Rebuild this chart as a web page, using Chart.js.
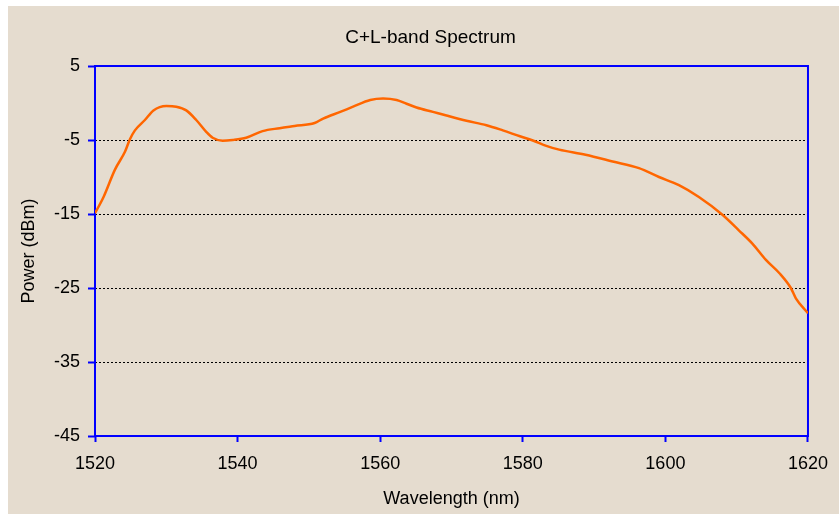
<!DOCTYPE html>
<html>
<head>
<meta charset="utf-8">
<script src="https://cdn.jsdelivr.net/npm/chart.js@4.4.1/dist/chart.umd.min.js"></script>
<style>
  html, body { margin: 0; padding: 0; background: #ffffff; }
  #frame {
    position: absolute;
    left: 8px;
    top: 6px;
    width: 831px;
    height: 508px;
    background: #e5dccf;
  }
  #spectrum { display: block; }
</style>
</head>
<body>
<div id="frame">
  <canvas id="spectrum" width="831" height="508"></canvas>
</div>
<script>
// Values
const wavelengths = [
  1520, 1521.2, 1522.8, 1524.2, 1524.9, 1525.6, 1527, 1528.2, 1530, 1531.4,
  1532.8, 1534.2, 1535.6, 1536.5, 1537.9, 1539.3, 1541.2, 1543.5, 1545.9, 1548,
  1550.8, 1552, 1554.4, 1556.2, 1558.6, 1560.4, 1562.3, 1563.7, 1565.1, 1567.4,
  1569.3, 1572.1, 1574.9, 1577.2, 1579.6, 1581.5, 1583.3, 1585.1, 1588.8, 1592.6,
  1596.3, 1599.1, 1601.9, 1604.7, 1608, 1610.3, 1612.2, 1614.1, 1616, 1617.6,
  1618.3, 1620
];
const powers = [
  -14.9, -12.7, -9.0, -6.6, -4.9, -3.7, -2.3, -1.0, -0.4, -0.5,
  -1.0, -2.3, -3.9, -4.7, -5.1, -5.0, -4.7, -3.8, -3.4, -3.1,
  -2.7, -2.1, -1.2, -0.5, 0.4, 0.6, 0.4, -0.1, -0.6, -1.2,
  -1.7, -2.4, -3.0, -3.7, -4.5, -5.1, -5.8, -6.3, -7.0, -7.9,
  -8.8, -10.0, -11.1, -12.7, -15.1, -17.2, -19.0, -21.2, -23.0, -25.0,
  -26.4, -28.4
];
const xTicks = [1520, 1540, 1560, 1580, 1600, 1620];
const yTicks = [-45, -35, -25, -15, -5, 5];

const chartTitle = "C+L-band Spectrum";
const fontFamily = "'Liberation Sans', Arial, sans-serif";

// Title and blue frame round the plot area
const framePlugin = {
  id: "frame",
  beforeDatasetsDraw(chart) {
    const { ctx, chartArea } = chart;
    ctx.save();
    ctx.setLineDash([]);
    ctx.strokeStyle = "#0000ff";
    ctx.lineWidth = 2;
    ctx.strokeRect(chartArea.left, chartArea.top,
      chartArea.right - chartArea.left, chartArea.bottom - chartArea.top);
    ctx.restore();
  },
  afterDraw(chart) {
    const { ctx } = chart;
    ctx.save();
    ctx.fillStyle = "#000000";
    ctx.font = "19px " + fontFamily;
    ctx.textAlign = "center";
    ctx.textBaseline = "alphabetic";
    ctx.fillText(chartTitle, 422.5, 36.5);
    ctx.restore();
  }
};

new Chart(document.getElementById("spectrum"), {
  type: "line",
  data: {
    datasets: [
      {
        label: "Spectrum",
        data: wavelengths.map((w, i) => ({ x: w, y: powers[i] })),
        borderColor: "#ff6600",
        borderWidth: 2.5,
        pointRadius: 0,
        cubicInterpolationMode: "monotone",
        fill: false,
      },
    ],
  },
  options: {
    responsive: false,
    animation: false,
    layout: { padding: { top: 60, right: 22, left: 0, bottom: 0 } },
    plugins: {
      legend: { display: false },
      title: { display: false },
      tooltip: { enabled: false },
    },
    scales: {
      x: {
        type: "linear",
        min: xTicks[0],
        max: xTicks[xTicks.length - 1],
        afterBuildTicks: (scale) => {
          scale.ticks = xTicks.map((v) => ({ value: v }));
        },
        afterFit: (scale) => { scale.height = 78; },
        grid: {
          drawOnChartArea: false,
          drawTicks: true,
          tickLength: 6,
          tickWidth: 2,
          tickColor: "#0000ff",
        },
        border: { display: false },
        ticks: {
          color: "#000000",
          padding: 11,
          maxRotation: 0,
          font: { family: fontFamily, size: 18 },
          callback: (value) => String(value),
        },
        title: {
          display: true,
          text: "Wavelength (nm)",
          color: "#000000",
          font: { family: fontFamily, size: 18 },
          padding: { top: 0, bottom: 4 },
        },
      },
      y: {
        min: yTicks[0],
        max: yTicks[yTicks.length - 1],
        afterBuildTicks: (scale) => {
          scale.ticks = yTicks.map((v) => ({ value: v }));
        },
        afterFit: (scale) => { scale.width = 87; },
        grid: {
          color: (c) =>
            c.tick && (c.tick.value === 5 || c.tick.value === -45)
              ? "rgba(0,0,0,0)"
              : "#000000",
          lineWidth: 1,
          drawTicks: true,
          tickLength: 7,
          tickWidth: 2,
          tickColor: "#0000ff",
        },
        border: { display: false, dash: [2, 2] },
        ticks: {
          color: "#000000",
          padding: 8,
          font: { family: fontFamily, size: 18 },
          callback: (value) => String(value),
        },
        title: {
          display: true,
          text: "Power (dBm)",
          color: "#000000",
          font: { family: fontFamily, size: 18 },
          padding: { top: 10, bottom: 0 },
        },
      },
    },
  },
  plugins: [framePlugin],
});
</script>
</body>
</html>
